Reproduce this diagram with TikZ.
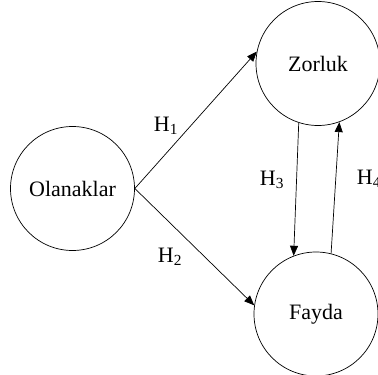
\documentclass[tikz,border=0pt]{standalone}
\usepackage{fontspec}
\setmainfont{Liberation Serif}
\usetikzlibrary{arrows.meta}
\begin{document}
\begin{tikzpicture}[x=1pt,y=-1pt,
  bubble/.style={draw, circle, minimum size=124pt, inner sep=0pt, line width=0.7pt, font=\fontsize{22}{26}\selectfont},
  link/.style={draw, line width=0.7pt, -{Triangle[length=10pt,width=8pt]}},
  hlab/.style={font=\fontsize{22}{26}\selectfont, inner sep=0pt}]
\useasboundingbox (0,0) rectangle (378,375);
\clip (0,0) rectangle (378,375);
\node[bubble] (ol) at (72.5,188.5) {Olanaklar};
\node[bubble] (zo) at (318,63.5) {Zorluk};
\node[bubble] (fa) at (316,314) {Fayda};
\draw[link] (ol.east) -- (zo.169);
\draw[link] (ol.east) -- (fa.172);
\draw[link] (zo.-108) -- (fa.111);
\draw[link] (fa.76) -- (zo.-70);
\node[hlab] (h1) at (166,126) {H\textsubscript{1}};
\node[hlab] (h2) at (170,257) {H\textsubscript{2}};
\node[hlab] (h3) at (272,180) {H\textsubscript{3}};
\node[hlab] (h4) at (369,179) {H\textsubscript{4}};
\end{tikzpicture}
\end{document}
